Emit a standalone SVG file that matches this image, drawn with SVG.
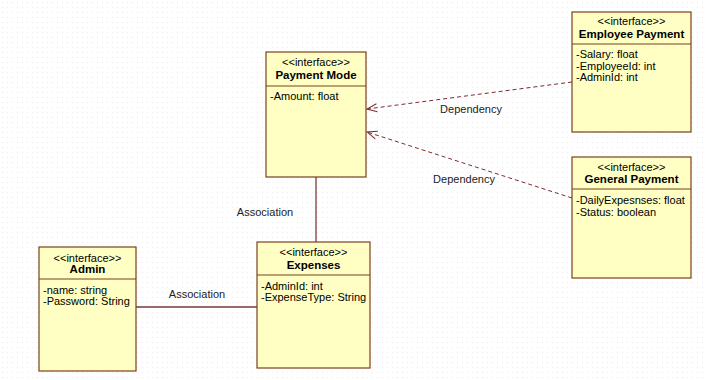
<svg xmlns="http://www.w3.org/2000/svg" width="705" height="380" viewBox="0 0 705 380">
<defs>
<pattern id="grid" width="5" height="5" patternUnits="userSpaceOnUse">
<rect x="2" y="2" width="1" height="1" fill="#ebebeb"/>
</pattern>
<marker id="open" viewBox="0 0 12 10" refX="11" refY="5" markerWidth="12" markerHeight="10" markerUnits="userSpaceOnUse" orient="auto">
<path d="M1,1 L11,5 L1,9" fill="none" stroke="#7a2c2c" stroke-width="1"/>
</marker>
</defs>
<style>
.box{fill:#ffffc4;stroke:#7d3f1e;stroke-width:1.2}
.sep{stroke:#7d3f1e;stroke-width:1}
.st{font-family:"Liberation Sans",Arial,sans-serif;font-size:11px;fill:#000;text-anchor:middle}
.nm{font-family:"Liberation Sans",Arial,sans-serif;font-size:11.5px;font-weight:bold;fill:#000;text-anchor:middle}
.at{font-family:"Liberation Sans",Arial,sans-serif;font-size:11px;fill:#000}
.lbl{font-family:"Liberation Sans",Arial,sans-serif;font-size:11px;fill:#222;text-anchor:middle}
.dep{fill:none;stroke:#7a2c2c;stroke-width:1;stroke-dasharray:4,3}
.asc{fill:none;stroke:#7a3a3a;stroke-width:1.3}
</style>
<rect width="705" height="380" fill="#ffffff"/>
<rect width="705" height="380" fill="url(#grid)"/>

<g id="payment-mode">
<rect class="box" x="266" y="52" width="100" height="125"/>
<line class="sep" x1="266" y1="86" x2="366" y2="86"/>
<text class="st" x="316" y="66">&lt;&lt;interface&gt;&gt;</text>
<text class="nm" x="316" y="79">Payment Mode</text>
<text class="at" x="270" y="100">-Amount: float</text>
</g>

<g id="employee-payment">
<rect class="box" x="572" y="12" width="119" height="120"/>
<line class="sep" x1="572" y1="44" x2="691" y2="44"/>
<text class="st" x="631.5" y="25">&lt;&lt;interface&gt;&gt;</text>
<text class="nm" x="631.5" y="38">Employee Payment</text>
<text class="at" x="576" y="58">-Salary: float</text>
<text class="at" x="576" y="70">-EmployeeId: int</text>
<text class="at" x="576" y="81">-AdminId: int</text>
</g>

<g id="general-payment">
<rect class="box" x="572" y="157" width="119" height="121"/>
<line class="sep" x1="572" y1="189" x2="691" y2="189"/>
<text class="st" x="631.5" y="171">&lt;&lt;interface&gt;&gt;</text>
<text class="nm" x="631.5" y="183">General Payment</text>
<text class="at" x="576" y="204">-DailyExpesnses: float</text>
<text class="at" x="576" y="216">-Status: boolean</text>
</g>

<g id="admin">
<rect class="box" x="39" y="247" width="97" height="124"/>
<line class="sep" x1="39" y1="279" x2="136" y2="279"/>
<text class="st" x="87.5" y="262">&lt;&lt;interface&gt;&gt;</text>
<text class="nm" x="87.5" y="273">Admin</text>
<text class="at" x="43" y="294">-name: string</text>
<text class="at" x="43" y="305">-Password: String</text>
</g>

<g id="expenses">
<rect class="box" x="257" y="242" width="113" height="126"/>
<line class="sep" x1="257" y1="275" x2="370" y2="275"/>
<text class="st" x="313.5" y="256">&lt;&lt;interface&gt;&gt;</text>
<text class="nm" x="313.5" y="269">Expenses</text>
<text class="at" x="261" y="290">-AdminId: int</text>
<text class="at" x="261" y="301">-ExpenseType: String</text>
</g>

<g id="connectors">
<path class="dep" d="M572,82 L367,109" marker-end="url(#open)"/>
<path class="dep" d="M572,198 L367,132" marker-end="url(#open)"/>
<path class="asc" d="M316,177 L316,242"/>
<path class="asc" d="M136,307 L257,307"/>
<text class="lbl" x="471" y="113">Dependency</text>
<text class="lbl" x="464" y="183">Dependency</text>
<text class="lbl" x="265" y="216">Association</text>
<text class="lbl" x="197" y="298">Association</text>
</g>
</svg>
